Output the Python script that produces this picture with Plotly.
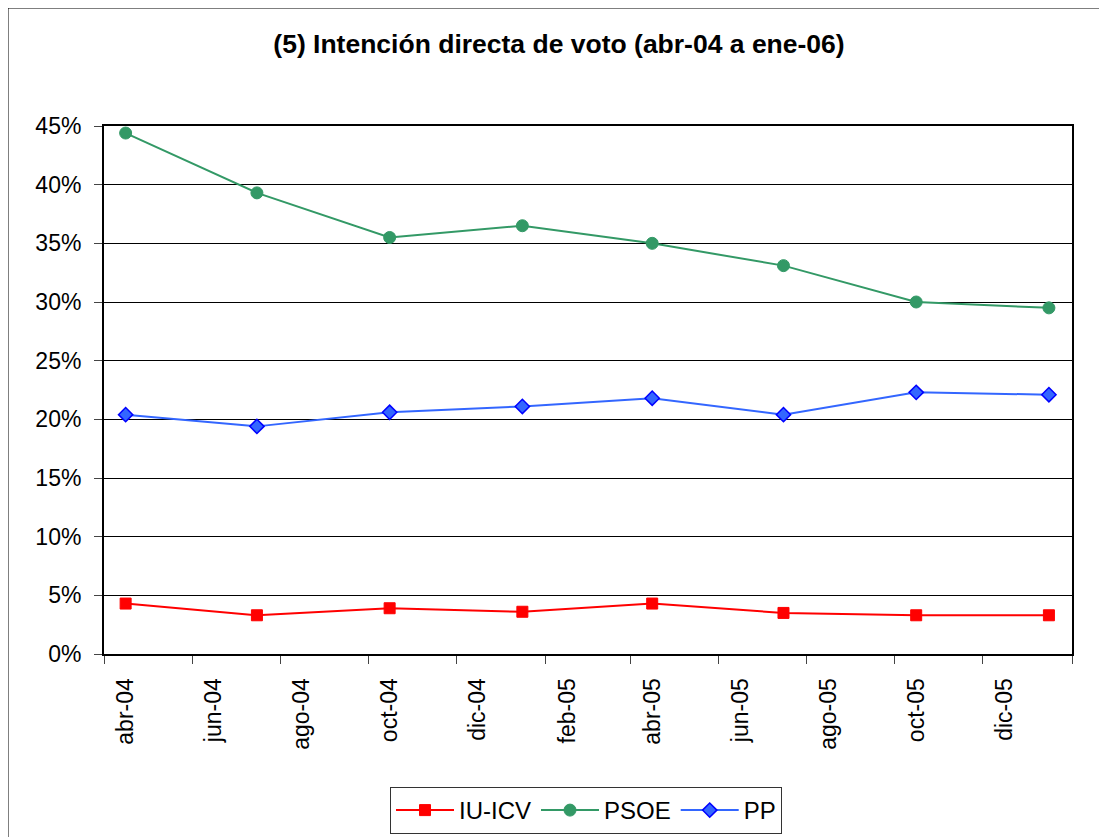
import plotly.graph_objects as go

# ---- data ----
dates = ["2004-04-16", "2004-07-16", "2004-10-16", "2005-01-16",
         "2005-04-16", "2005-07-16", "2005-10-16", "2006-01-16"]
iu_icv = [4.3, 3.3, 3.9, 3.6, 4.3, 3.5, 3.3, 3.3]
psoe = [44.4, 39.3, 35.5, 36.5, 35.0, 33.1, 30.0, 29.5]
pp = [20.4, 19.4, 20.6, 21.1, 21.8, 20.4, 22.3, 22.1]

tick_dates = ["2004-04-16", "2004-06-16", "2004-08-16", "2004-10-16", "2004-12-16",
              "2005-02-16", "2005-04-16", "2005-06-16", "2005-08-16", "2005-10-16",
              "2005-12-16"]
tick_labels = ["abr-04", "jun-04", "ago-04", "oct-04", "dic-04", "feb-05",
               "abr-05", "jun-05", "ago-05", "oct-05", "dic-05"]
boundary_ticks = ["2004-04-01", "2004-06-01", "2004-08-01", "2004-10-01", "2004-12-01",
                  "2005-02-01", "2005-04-01", "2005-06-01", "2005-08-01", "2005-10-01",
                  "2005-12-01", "2006-02-01"]
y_ticks = [0, 5, 10, 15, 20, 25, 30, 35, 40, 45]
y_labels = [f"{v}%" for v in y_ticks]

title = "(5) Intención directa de voto (abr-04 a ene-06)"

FONT = "Liberation Sans, Arial, sans-serif"

fig = go.Figure()
fig.add_trace(go.Scatter(
    x=dates, y=iu_icv, name="IU-ICV", mode="lines+markers",
    line=dict(color="#FF0000", width=2),
    marker=dict(symbol="square", size=11, color="#FF0000",
                line=dict(color="#FF0000", width=1)),
))
fig.add_trace(go.Scatter(
    x=dates, y=psoe, name="PSOE", mode="lines+markers",
    line=dict(color="#339966", width=2),
    marker=dict(symbol="circle", size=12, color="#339966",
                line=dict(color="#339966", width=1)),
))
fig.add_trace(go.Scatter(
    x=dates, y=pp, name="PP", mode="lines+markers",
    line=dict(color="#3366FF", width=2),
    marker=dict(symbol="diamond", size=11, color="#3366FF",
                line=dict(color="#0000FF", width=1.5)),
))

OFF = 8  # page body margin
W, H = 1107 - OFF, 837 - OFF
L = 104 - OFF
T = 126 - OFF
R = W - (1072 - OFF)
B = H - (654 - OFF)
pw, ph = W - L - R, H - T - B


def px_x(x):
    # screen x -> paper x
    return (x - OFF - L) / pw


def px_y(y):
    # screen y -> paper y
    return (H - B - (y - OFF)) / ph


fig.update_layout(
    width=W, height=H,
    margin=dict(l=L, r=R, t=T, b=B, pad=0, autoexpand=False),
    paper_bgcolor="white", plot_bgcolor="white",
    font=dict(family=FONT, size=23, color="black"),
    title=dict(text="<b>" + title + "</b>", x=(559 - OFF) / W, xanchor="center",
               y=1 - (44 - OFF) / H, yanchor="middle",
               font=dict(family=FONT, size=26.5, color="black")),
    showlegend=True,
    legend=dict(orientation="h", xref="container", x=(586 - OFF) / W, xanchor="center",
                yref="container", y=1 - (787 - OFF) / H, yanchor="top",
                bordercolor="#333333", borderwidth=1, bgcolor="white",
                itemwidth=58,
                font=dict(family=FONT, size=24, color="black")),
    xaxis=dict(
        type="date", range=[boundary_ticks[0], boundary_ticks[-1]],
        automargin=False,
        tickmode="array", tickvals=tick_dates, ticktext=tick_labels,
        tickangle=-90, ticks="", showgrid=False, zeroline=False,
        showline=True, linecolor="black", linewidth=2, mirror=True,
        ticklabelstandoff=13,
        tickfont=dict(family=FONT, size=23, color="black"),
        minor=dict(tickmode="array", tickvals=boundary_ticks, ticks="outside",
                   ticklen=8, tickwidth=1, tickcolor="#444444", showgrid=False),
    ),
    yaxis=dict(
        range=[0, 45], automargin=False,
        tickmode="array", tickvals=y_ticks, ticktext=y_labels,
        ticks="outside", ticklen=8, tickwidth=1, tickcolor="#444444",
        showgrid=True, gridcolor="black", gridwidth=1, zeroline=False,
        showline=True, linecolor="black", linewidth=2, mirror=True,
        ticklabelstandoff=8,
        tickfont=dict(family=FONT, size=23, color="black"),
    ),
    shapes=[dict(type="rect", xref="paper", yref="paper",
                 x0=px_x(8), x1=px_x(1103), y0=px_y(845), y1=px_y(8),
                 line=dict(color="black", width=1), fillcolor="rgba(0,0,0,0)",
                 layer="below")],
)

fig.write_html("out.html")
